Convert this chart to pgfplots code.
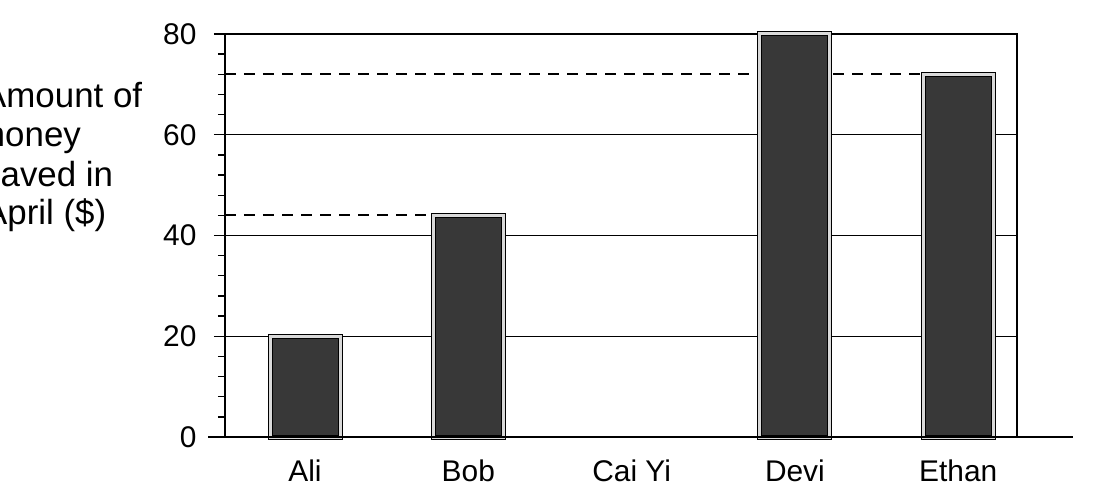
\documentclass[border=0pt]{standalone}
\usepackage{pgfplots}
\pgfplotsset{compat=1.18}
\usepackage{fontspec}
\setmainfont{Liberation Sans}
\begin{document}
\begin{tikzpicture}
\begin{axis}[
  x=163.3bp, y=5.0375bp,
  xmin=-0.49, xmax=4.36,
  ymin=0, ymax=80,
  xtick={0,1,2,3,4},
  xticklabels={Ali,Bob,Cai Yi,Devi,Ethan},
  xtick style={draw=none},
  xtick pos=bottom,
  ytick={0,20,40,60,80},
  minor y tick num=4,
  ytick pos=left,
  tick align=outside,
  major tick length=11bp,
  minor tick length=7bp,
  major tick style={line width=1.3bp, black},
  minor tick style={line width=1.3bp, black},
  ymajorgrids,
  major grid style={line width=1.3bp, black},
  axis line style={line width=1.6bp, black},
  tick label style={font=\fontsize{30}{36}\selectfont},
  /pgf/number format/assume math mode=true,
  yticklabel style={xshift=-14bp},
  xticklabel style={yshift=-8bp},
  clip=false,
]
% dashed reference lines
\addplot[black, line width=1.8bp, dash pattern=on 11bp off 8bp] coordinates {(-0.49,72) (3.78,72)};
\addplot[black, line width=1.8bp, dash pattern=on 11bp off 8bp] coordinates {(-0.49,44) (0.78,44)};
% bars
\addplot[ybar, bar width=70bp, fill=black!78, draw=black, line width=1bp,
  double=black!15, double distance=3bp]
  coordinates {(0,20) (1,44) (3,80) (4,72)};
% extended baseline
\addplot[black, line width=1.6bp] coordinates {(-0.594,0) (4.70,0)};
\end{axis}
\node[anchor=base west, inner sep=0pt, font=\fontsize{35}{40}\selectfont] at (-242bp,329bp) {Amount of};
\node[anchor=base west, inner sep=0pt, font=\fontsize{35}{40}\selectfont] at (-249bp,290bp) {money};
\node[anchor=base west, inner sep=0pt, font=\fontsize{35}{40}\selectfont] at (-242bp,250bp) {saved in};
\node[anchor=base west, inner sep=0pt, font=\fontsize{35}{40}\selectfont] at (-241bp,212bp) {April (\$)};
\pgfresetboundingbox
\useasboundingbox (-225bp,-51bp) rectangle (870bp,437bp);
\end{tikzpicture}
\end{document}
